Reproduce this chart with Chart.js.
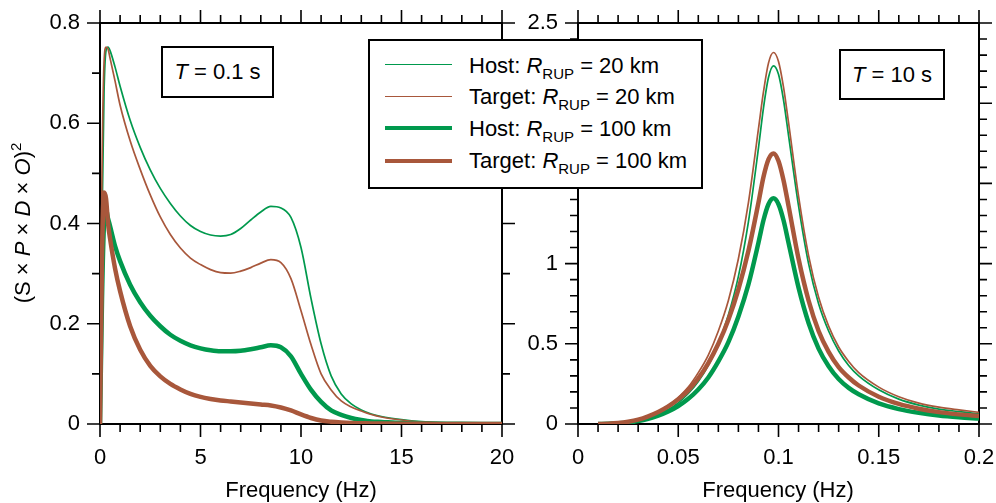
<!DOCTYPE html>
<html lang="en">
<head>
<meta charset="UTF-8">
<title>(S x P x D x O)^2 host vs target</title>
<script src="https://cdn.jsdelivr.net/npm/chart.js"></script>
<style>
  body { margin: 0; background: #fff; color: #000; font-family: 'Liberation Sans', Arial, sans-serif; }
  #wrap { position: relative; width: 996px; height: 503px; overflow: hidden; }
  #wrap canvas { position: absolute; left: 0; top: 0; }
  .txt { position: absolute; font-size: 22px; line-height: 22px; white-space: nowrap; z-index: 5; }
  .box { position: absolute; border: 2px solid #000; background: #fff; box-sizing: border-box; z-index: 4; }
  .sub { font-size: 15px; position: relative; top: 6px; }
  .sup { font-size: 15px; position: relative; top: -9px; }
  .swatch { position: absolute; left: 385px; width: 67px; z-index: 5; }
  #ytitle { left: -91px; top: 211px; width: 230px; text-align: center; transform: rotate(-90deg); }
</style>
</head>
<body>
<div id="wrap">
  <canvas id="left" width="996" height="503"></canvas>
  <canvas id="right" width="996" height="503"></canvas>

  <div class="txt" id="ytitle">(S × <i>P</i> × <i>D</i> × <i>O</i>)<span class="sup">2</span></div>
  <div class="txt" style="left:221px;top:479px;width:160px;text-align:center">Frequency (Hz)</div>
  <div class="txt" style="left:698px;top:479px;width:160px;text-align:center">Frequency (Hz)</div>

  <div class="box" style="left:161px;top:46px;width:113px;height:52px"></div>
  <div class="txt" style="left:161px;top:61px;width:113px;text-align:center"><i>T</i> = 0.1 s</div>
  <div class="box" style="left:839px;top:49px;width:106px;height:51px"></div>
  <div class="txt" style="left:839px;top:64px;width:106px;text-align:center"><i>T</i> = 10 s</div>

  <div class="box" style="left:368px;top:39px;width:335px;height:150px"></div>
  <div class="swatch" style="top:63.5px;height:1.6px;background:#00994d"></div>
  <div class="swatch" style="top:95.9px;height:1.6px;background:#a8573b"></div>
  <div class="swatch" style="top:126.3px;height:4px;background:#00994d"></div>
  <div class="swatch" style="top:159px;height:4px;background:#a8573b"></div>
  <div class="txt" style="left:469px;top:54.7px">Host: <i>R</i><span class="sub">RUP</span> = 20 km</div>
  <div class="txt" style="left:469px;top:86.4px">Target: <i>R</i><span class="sub">RUP</span> = 20 km</div>
  <div class="txt" style="left:469px;top:118.1px">Host: <i>R</i><span class="sub">RUP</span> = 100 km</div>
  <div class="txt" style="left:469px;top:149.7px">Target: <i>R</i><span class="sub">RUP</span> = 100 km</div>
</div>

<script>
  // T = 0.1 s panel, frequency in Hz
  const freqL = [0, 0.1, 0.2, 0.3, 0.4, 0.5, 0.75, 1, 1.5, 2, 2.5, 3, 3.5, 4, 4.5, 5, 5.5, 6, 6.5, 7,
                 7.5, 8, 8.5, 9, 9.5, 10, 10.5, 11, 11.5, 12, 12.5, 13, 13.5, 14, 15, 16, 17, 18, 19, 20];
  const hostL20 = [0, 0.40, 0.66, 0.745, 0.752, 0.745, 0.712, 0.674, 0.606, 0.552, 0.507, 0.47, 0.44, 0.415, 0.396, 0.384, 0.377, 0.375, 0.378, 0.39,
                   0.407, 0.423, 0.434, 0.431, 0.412, 0.352, 0.25, 0.16, 0.096, 0.06, 0.04, 0.028, 0.02, 0.015, 0.009, 0.005, 0.003, 0.002, 0.001, 0.0005];
  const targetL20 = [0, 0.5, 0.72, 0.752, 0.748, 0.73, 0.684, 0.636, 0.565, 0.508, 0.457, 0.413, 0.378, 0.351, 0.331, 0.318, 0.308, 0.302, 0.301, 0.305,
                     0.312, 0.321, 0.328, 0.322, 0.29, 0.226, 0.158, 0.1, 0.068, 0.046, 0.034, 0.026, 0.019, 0.014, 0.008, 0.004, 0.002, 0.001, 0.0006, 0.0003];
  const hostL100 = [0, 0.25, 0.40, 0.427, 0.41, 0.395, 0.355, 0.325, 0.278, 0.243, 0.216, 0.195, 0.178, 0.166, 0.157, 0.151, 0.147, 0.145, 0.145, 0.146,
                    0.149, 0.153, 0.157, 0.153, 0.135, 0.10, 0.068, 0.044, 0.027, 0.018, 0.012, 0.008, 0.005, 0.004, 0.002, 0.001, 0.0005, 0.0003, 0.0002, 0.0001];
  const targetL100 = [0, 0.33, 0.462, 0.45, 0.40, 0.37, 0.31, 0.265, 0.195, 0.148, 0.116, 0.095, 0.08, 0.069, 0.06, 0.054, 0.05, 0.047, 0.045, 0.043,
                      0.041, 0.039, 0.037, 0.033, 0.027, 0.019, 0.012, 0.007, 0.0045, 0.003, 0.002, 0.0015, 0.001, 0.0008, 0.0005, 0.0003, 0.0002, 0.0001, 0.0001, 0.0001];

  // T = 10 s panel
  const freqR = [0.01, 0.015, 0.02, 0.025, 0.03, 0.035, 0.04, 0.045, 0.05, 0.055, 0.06, 0.065, 0.07, 0.075, 0.08, 0.085, 0.09, 0.0925,
                 0.095, 0.0975, 0.1, 0.1025, 0.105, 0.11, 0.115, 0.12, 0.125, 0.13, 0.135, 0.14, 0.15, 0.16, 0.17, 0.18, 0.19, 0.2];
  const hostR20 = [0, 0.001, 0.004, 0.01, 0.02, 0.037, 0.06, 0.09, 0.132, 0.19, 0.265, 0.365, 0.5, 0.68, 0.92, 1.26, 1.72, 1.97,
                   2.16, 2.233, 2.18, 2.02, 1.8, 1.36, 1.0, 0.75, 0.58, 0.455, 0.365, 0.3, 0.213, 0.155, 0.118, 0.093, 0.077, 0.064];
  const targetR20 = [0, 0.002, 0.006, 0.014, 0.028, 0.05, 0.078, 0.115, 0.165, 0.23, 0.32, 0.43, 0.58, 0.77, 1.03, 1.38, 1.84, 2.07,
                     2.25, 2.316, 2.26, 2.1, 1.88, 1.42, 1.05, 0.79, 0.61, 0.48, 0.39, 0.32, 0.23, 0.17, 0.13, 0.105, 0.088, 0.073];
  const hostR100 = [0, 0.001, 0.004, 0.009, 0.018, 0.032, 0.052, 0.078, 0.112, 0.157, 0.215, 0.29, 0.39, 0.51, 0.67, 0.87, 1.13, 1.27,
                    1.37, 1.407, 1.37, 1.27, 1.13, 0.85, 0.63, 0.47, 0.36, 0.28, 0.225, 0.185, 0.128, 0.093, 0.07, 0.053, 0.042, 0.034];
  const targetR100 = [0, 0.002, 0.006, 0.014, 0.027, 0.048, 0.075, 0.11, 0.155, 0.21, 0.285, 0.38, 0.5, 0.65, 0.84, 1.08, 1.38, 1.54,
                      1.65, 1.687, 1.64, 1.52, 1.36, 1.03, 0.77, 0.58, 0.45, 0.355, 0.29, 0.24, 0.17, 0.125, 0.095, 0.074, 0.06, 0.05];

  const GREEN = '#00994d', BROWN = '#a8573b';

  Chart.defaults.font.family = "'Liberation Sans', Arial, sans-serif";
  Chart.defaults.font.size = 22;
  Chart.defaults.color = '#000';

  // box around the plot + outward major/minor ticks on all four sides
  const frameTicks = {
    id: 'frameTicks',
    beforeDatasetsDraw(chart) {
      const { ctx, chartArea: a, scales: { x, y } } = chart;
      ctx.save();
      ctx.strokeStyle = '#000';
      ctx.lineWidth = 1.6;
      ctx.beginPath();
      x.ticks.forEach(t => {
        const p = x.getPixelForValue(t.value), n = t.big ? 13 : 8;
        ctx.moveTo(p, a.bottom); ctx.lineTo(p, a.bottom + n);
        ctx.moveTo(p, a.top); ctx.lineTo(p, a.top - n);
      });
      y.ticks.forEach(t => {
        const p = y.getPixelForValue(t.value), n = t.big ? 13 : 8;
        ctx.moveTo(a.left, p); ctx.lineTo(a.left - n, p);
        ctx.moveTo(a.right, p); ctx.lineTo(a.right + n, p);
      });
      ctx.stroke();
      ctx.lineWidth = 2;
      ctx.strokeRect(a.left, a.top, a.right - a.left, a.bottom - a.top);
      ctx.restore();
    }
  };

  function stepTicks(n, div, every) {
    return scale => {
      const out = [];
      for (let i = 0; i <= n; i++) out.push({ value: i / div, big: i % every === 0 });
      scale.ticks = out;
    };
  }

  function noPad(s) {
    s.paddingTop = 0; s.paddingBottom = 0; s.paddingLeft = 0; s.paddingRight = 0;
  }

  function makeChart(id, freq, series, xOpt, yOpt, pad) {
    const styles = [
      { label: 'Host: R_RUP = 20 km', color: GREEN, w: 1.7, order: 3 },
      { label: 'Target: R_RUP = 20 km', color: BROWN, w: 1.7, order: 2 },
      { label: 'Host: R_RUP = 100 km', color: GREEN, w: 4.5, order: 1 },
      { label: 'Target: R_RUP = 100 km', color: BROWN, w: 4.5, order: 0 }
    ];
    return new Chart(document.getElementById(id), {
      type: 'line',
      data: {
        datasets: series.map((vals, k) => ({
          label: styles[k].label,
          data: freq.map((f, i) => ({ x: f, y: vals[i] })),
          borderColor: styles[k].color,
          borderWidth: styles[k].w,
          order: styles[k].order,
          pointRadius: 0,
          pointHoverRadius: 0,
          fill: false,
          cubicInterpolationMode: 'monotone'
        }))
      },
      options: {
        responsive: false,
        animation: false,
        events: [],
        layout: { padding: pad, autoPadding: false },
        plugins: { legend: { display: false }, tooltip: { enabled: false } },
        scales: {
          x: {
            type: 'linear', min: xOpt.min, max: xOpt.max,
            afterBuildTicks: xOpt.build,
            afterFit: s => { s.height = 79; noPad(s); },
            grid: { display: false, drawTicks: false },
            border: { display: false },
            ticks: { autoSkip: false, maxRotation: 0, padding: 21,
                     callback: (v, i, ts) => ts[i].big ? String(v) : '' }
          },
          y: {
            min: yOpt.min, max: yOpt.max,
            afterBuildTicks: yOpt.build,
            afterFit: s => { s.width = yOpt.width; noPad(s); },
            grid: { display: false, drawTicks: false },
            border: { display: false },
            ticks: { autoSkip: false, padding: 20,
                     callback: (v, i, ts) => ts[i].big ? String(v) : '' }
          }
        }
      },
      plugins: [frameTicks]
    });
  }

  makeChart('left', freqL, [hostL20, targetL20, hostL100, targetL100],
    { min: 0, max: 20, build: stepTicks(20, 1, 5) },
    { min: 0, max: 0.8, build: stepTicks(8, 10, 2), width: 100 },
    { left: 0, top: 23, right: 494, bottom: 0 });

  makeChart('right', freqR, [hostR20, targetR20, hostR100, targetR100],
    { min: 0, max: 0.2, build: stepTicks(20, 100, 5) },
    { min: 0, max: 2.5, build: stepTicks(25, 10, 5), width: 578 },
    { left: 0, top: 23, right: 17, bottom: 0 });
</script>
</body>
</html>
